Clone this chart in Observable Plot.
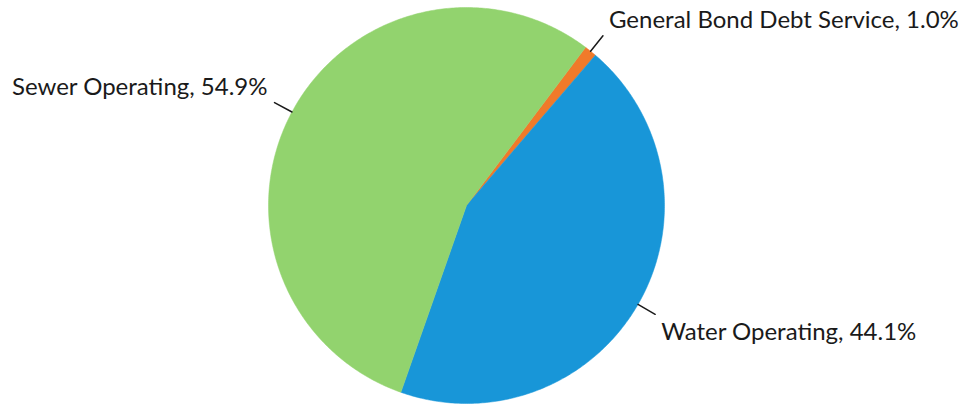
<!DOCTYPE html>
<html><head><meta charset="utf-8">
<script src="https://cdn.jsdelivr.net/npm/d3@7"></script>
<script src="https://cdn.jsdelivr.net/npm/@observablehq/plot@0.6"></script>
<style>body{margin:0;background:#fff}</style>
</head><body><div id="chart"></div>
<script>
const categories = ["General Bond Debt Service", "Water Operating", "Sewer Operating"];
const shares = [1.0, 44.1, 54.9];
const colors = ["#f07a2a", "#1896d8", "#92d36e"];
const startAngleDeg = 37;

const total = d3.sum(shares);
let acc = startAngleDeg * Math.PI / 180;
const slices = categories.map((name, i) => {
  const a0 = acc, a1 = acc + shares[i] / total * 2 * Math.PI;
  acc = a1;
  return {name, value: shares[i], a0, a1, mid: (a0 + a1) / 2};
});
const pts = [];
for (const s of slices) {
  pts.push({name: s.name, x: 0, y: 0});
  const n = Math.max(4, Math.ceil((s.a1 - s.a0) / 0.01));
  for (let k = 0; k <= n; k++) {
    const a = s.a0 + (s.a1 - s.a0) * k / n;
    pts.push({name: s.name, x: Math.sin(a), y: Math.cos(a)});
  }
  pts.push({name: s.name, x: 0, y: 0});
}
const leaders = slices.flatMap(s => [
  {name: s.name, x: 1.0 * Math.sin(s.mid), y: 1.0 * Math.cos(s.mid)},
  {name: s.name, x: 1.1 * Math.sin(s.mid), y: 1.1 * Math.cos(s.mid)}
]);
const R = 198;
const lab = s => `${s.name}, ${s.value.toFixed(1)}%`;
const lx = s => 1.1 * Math.sin(s.mid) + (Math.sin(s.mid) >= 0 ? 6 : -7) / R;
const ly = s => 1.1 * Math.cos(s.mid) + (Math.cos(s.mid) > 0 ? 15 : -18) / R;

const chart = Plot.plot({
  width: 969, height: 406,
  margin: 0,
  x: {domain: [-1, 1], range: [466 - R, 466 + R], axis: null},
  y: {domain: [-1, 1], range: [205 + R, 205 - R], axis: null},
  color: {domain: categories, range: colors},
  style: {fontFamily: "Lato, 'Open Sans', sans-serif", background: "#fff"},
  marks: [
    Plot.line(pts, {x: "x", y: "y", z: "name", fill: "name", stroke: "name", strokeWidth: 0.5, curve: "linear"}),
    Plot.line(leaders, {x: "x", y: "y", z: "name", stroke: "#1a1a1a", strokeWidth: 1.5}),
    Plot.text(slices.filter(s => Math.sin(s.mid) >= 0), {x: lx, y: ly, text: lab, textAnchor: "start", fontSize: 24, fill: "#1a1a1a"}),
    Plot.text(slices.filter(s => Math.sin(s.mid) < 0), {x: lx, y: ly, text: lab, textAnchor: "end", fontSize: 24, fill: "#1a1a1a"})
  ]
});
document.getElementById("chart").appendChild(chart);
</script></body></html>
